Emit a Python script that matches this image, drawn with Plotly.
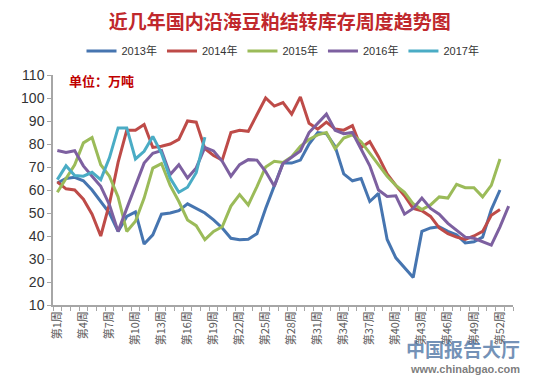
import plotly.graph_objects as go

weeks = list(range(1, 54))
tick_weeks = list(range(1, 53, 3))
tick_labels = [f"第{w}周" for w in tick_weeks]

s2013 = [63, 65, 65.5, 64, 60, 55, 50, 42, 48.5, 50.5, 36.5, 40.5, 49.5, 50, 51, 54, 52, 50,
         47, 43.5, 39, 38.4, 38.6, 41, 52, 61.6, 71.7, 71.7, 73, 80, 85, 84.5, 79, 67, 64, 65,
         55, 58.5, 38.5, 30.5, 26, 22, 42, 43.5, 44, 42, 40.5, 37, 37.5, 39.5, 51.5, 60]
s2014 = [63.5, 60.5, 60, 56, 49.5, 40, 54, 72, 86, 86, 88.5, 78.5, 79, 80, 82, 90, 89.5, 78,
         75, 73, 85, 86, 85.5, 93, 100, 96.5, 98, 93, 100.5, 89, 86.5, 89.5, 86.5, 86, 88, 78.5,
         81, 74.5, 67, 62, 57.5, 52, 51, 48.5, 43.5, 41, 39.5, 38.5, 40, 42, 49, 51.5]
s2015 = [59, 65, 71, 80.5, 82.8, 71, 66, 57, 42, 46.4, 56.5, 69.5, 71.5, 62, 55, 47, 44.5, 38.4,
         42, 44, 53, 58, 53.5, 61.5, 70, 72.5, 72, 74.5, 79, 82, 84, 85, 78, 82.6, 84, 81,
         76, 71, 66, 62, 59, 54, 51.5, 53.5, 57, 56.5, 62.5, 61, 61, 57, 62, 73.5]
s2016 = [77.2, 76.3, 77.1, 70.5, 66, 61.6, 53.6, 42, 52, 61.6, 71.7, 76, 77.1, 66.7, 71, 65.2,
         69.6, 78.5, 77, 72.5, 66, 71, 73.2, 73, 68, 61.6, 71.5, 74.2, 77, 85, 89, 93, 86, 84.5,
         85, 78, 70.5, 60, 57.2, 57.5, 49.5, 52, 56.5, 52, 49.5, 45.5, 42.5, 39.5, 39, 37.5, 36,
         44, 53]
s2017 = [64.5, 70.5, 66.3, 66, 67.7, 64.5, 74, 87, 87, 73.5, 76.8, 83.3, 76, 65.2, 59, 61.2,
         67.5, 83]

series = [
    ("2013年", s2013, "#4675B0"),
    ("2014年", s2014, "#BE4B48"),
    ("2015年", s2015, "#9BBB59"),
    ("2016年", s2016, "#7D60A0"),
    ("2017年", s2017, "#4AACC5"),
]

fig = go.Figure()
for name, vals, color in series:
    fig.add_trace(go.Scatter(
        x=weeks[:len(vals)], y=vals, name=name, mode="lines",
        line=dict(color=color, width=3),
    ))

fig.update_layout(
    width=536, height=376, autosize=False,
    margin=dict(l=45, r=31, t=67, b=79),
    paper_bgcolor="white", plot_bgcolor="white",
    font=dict(family="Liberation Sans, Arial, Noto Sans CJK SC", color="#333333"),
    title=dict(
        text="<b>近几年国内沿海豆粕结转库存周度趋势图</b>",
        x=0.507, xanchor="center", y=1 - 14 / 376, yanchor="middle",
        font=dict(family="Noto Sans CJK SC", size=19, color="#C0282C"),
    ),
    legend=dict(
        orientation="h", x=0.5, xanchor="center", y=1.104, yanchor="middle",
        font=dict(size=11, color="#333333", family="Liberation Sans, Noto Sans CJK SC"),
        itemwidth=30, tracegroupgap=0, bgcolor="rgba(0,0,0,0)",
    ),
    showlegend=True,
)

fig.update_xaxes(
    range=[0.5, 53.5], tickmode="array", tickvals=tick_weeks, ticktext=tick_labels,
    tickangle=-90, tickfont=dict(size=11, color="#595959", family="Noto Sans CJK SC"),
    showgrid=False, zeroline=False, showline=True, linecolor="#A6A6A6", linewidth=1.5,
    ticks="", ticklen=0,
    minor=dict(tickmode="linear", tick0=0.5, dtick=1, ticks="outside", ticklen=4,
               tickcolor="#A6A6A6", showgrid=False),
)
fig.update_yaxes(
    range=[10, 110], tickmode="linear", tick0=10, dtick=10,
    tickfont=dict(size=14, color="#333333", family="Liberation Sans, Arial"),
    showgrid=False, zeroline=False, showline=True, linecolor="#A6A6A6", linewidth=1.5,
    ticks="outside", ticklen=4, tickcolor="#A6A6A6",
)

fig.add_annotation(
    text="<b>单位：万吨</b>", xref="paper", yref="paper", x=0.03, y=0.975,
    xanchor="left", yanchor="middle", showarrow=False,
    font=dict(family="Noto Sans CJK SC", size=13, color="#C00000"),
)
fig.add_annotation(
    text="<b>中国报告大厅</b>", xref="paper", yref="paper", x=1.02, y=-0.19,
    xanchor="right", yanchor="middle", showarrow=False,
    font=dict(family="Noto Sans CJK SC", size=19, color="rgba(70,110,160,0.75)"),
)
fig.add_annotation(
    text="<b>www.chinabgao.com</b>", xref="paper", yref="paper", x=1.02, y=-0.278,
    xanchor="right", yanchor="middle", showarrow=False,
    font=dict(family="Liberation Sans, Arial", size=11, color="rgba(90,90,90,0.8)"),
)

fig.write_html("out.html")
